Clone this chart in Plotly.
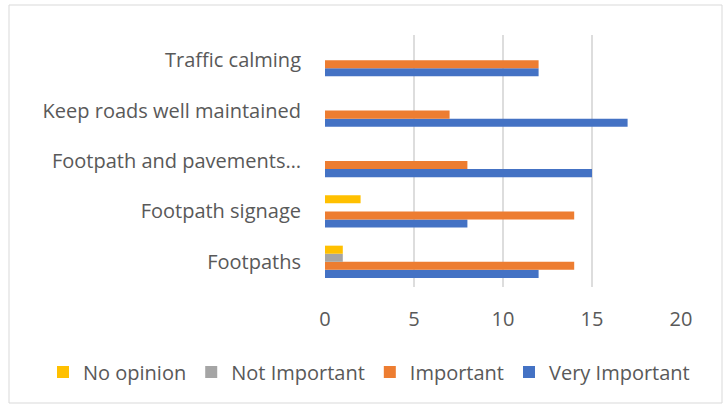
import plotly.graph_objects as go

categories = ["Footpaths", "Footpath signage", "Footpath and pavements…",
              "Keep roads well maintained", "Traffic calming"]
very_important = [12, 8, 15, 17, 12]
important = [14, 14, 8, 7, 12]
not_important = [1, 0, 0, 0, 0]
no_opinion = [1, 2, 0, 0, 0]

series = [
    ("Very Important", very_important, "#4472C4"),
    ("Important", important, "#ED7D31"),
    ("Not Important", not_important, "#A5A5A5"),
    ("No opinion", no_opinion, "#FFC000"),
]

text_col = "#595959"
font_name = "Open Sans"

fig = go.Figure()
for name, vals, col in series:
    fig.add_trace(go.Bar(y=categories, x=vals, name=name, orientation="h",
                         marker=dict(color=col, line=dict(width=0)),
                         hoverinfo="skip"))

# plot area spans x 325..681, y 35..287
L, R, T, B = 325, 681, 35, 287
W, H = 726, 407
pw, ph = R - L, B - T

fig.update_layout(
    width=W, height=H,
    margin=dict(l=L, r=W - R, t=T, b=H - B, autoexpand=False),
    barmode="group", bargap=0.36, bargroupgap=0,
    plot_bgcolor="white", paper_bgcolor="white",
    font=dict(family=font_name, size=20, color=text_col),
    xaxis=dict(range=[0, 20], dtick=5, showgrid=True, gridcolor="#DDDDDD",
               gridwidth=2, zeroline=False, showline=False, ticks="",
               ticklabelstandoff=18, tickfont=dict(size=20, color=text_col)),
    yaxis=dict(showgrid=False, zeroline=False, showline=False, ticks="",
               ticklabelstandoff=23, tickfont=dict(size=20, color=text_col)),
    legend=dict(orientation="h", traceorder="reversed",
                x=(43 - L) / pw, xanchor="left",
                y=(B - 372) / ph, yanchor="middle",
                font=dict(size=20, color=text_col), itemwidth=30),
    shapes=[dict(type="rect", xref="paper", yref="paper",
                 x0=(9 - L) / pw, x1=(722 - L) / pw,
                 y0=(B - 403) / ph, y1=(B - 5) / ph,
                 line=dict(color="#D9D9D9", width=1), layer="above")],
)

fig.write_html("out.html", config={"displayModeBar": False},
               post_script="document.body.style.margin='0';")
